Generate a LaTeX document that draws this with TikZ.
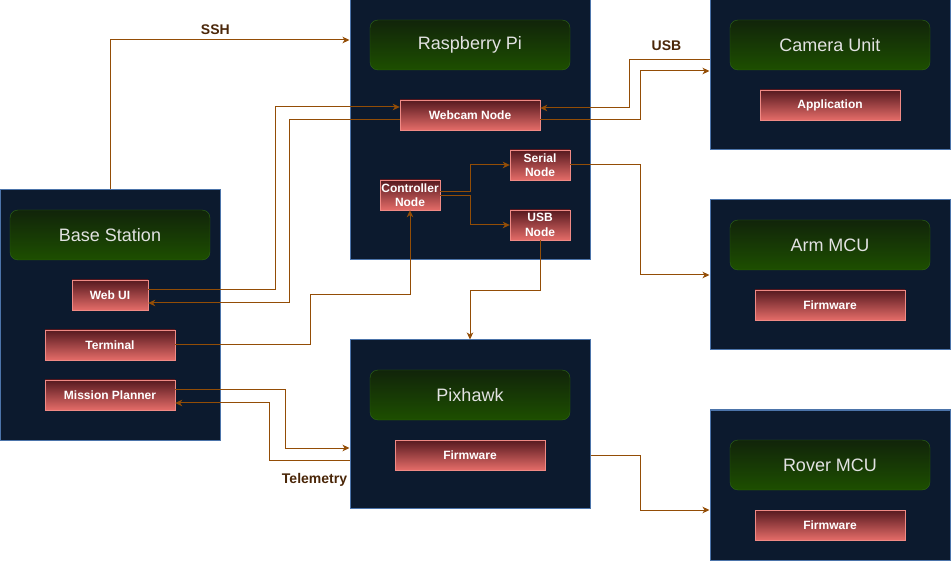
\documentclass[tikz,border=0pt]{standalone}
\usepackage{fontspec}
\setmainfont{Liberation Sans}
\usetikzlibrary{shapes,arrows.meta}
\definecolor{unitfill}{HTML}{0C1A2E}
\definecolor{unitline}{HTML}{4C74AA}
\definecolor{titletop}{HTML}{11240A}
\definecolor{titlebot}{HTML}{1D4F00}
\definecolor{titleline}{HTML}{2E6614}
\definecolor{titletext}{HTML}{E2E2E2}
\definecolor{parttop}{HTML}{56191F}
\definecolor{partbot}{HTML}{E46C68}
\definecolor{partline}{HTML}{F08A85}
\definecolor{linkcol}{HTML}{934D06}
\definecolor{tagcol}{HTML}{4A2608}
\tikzstyle{unit} = [rectangle, draw=unitline, fill=unitfill, line width=1pt, minimum width=240pt]
\tikzstyle{title} = [rectangle, rounded corners=8pt, draw=titleline, top color=titletop, bottom color=titlebot, minimum width=200pt, minimum height=50pt, text=titletext, font=\fontsize{18}{21}\selectfont]
\tikzstyle{part} = [rectangle, draw=partline, top color=parttop, bottom color=partbot, minimum height=30pt, inner sep=1pt, align=center, text=white, font=\bfseries\fontsize{12}{14.5}\selectfont]
\tikzstyle{link} = [draw=linkcol, line width=1pt, ->]
\tikzstyle{tag} = [text=tagcol, inner sep=0pt, font=\bfseries\fontsize{14}{16}\selectfont]

\begin{document}
\begin{tikzpicture}[x=1pt, y=-1pt, >={Stealth[length=7pt, width=6.5pt, inset=2pt]}]
\useasboundingbox (0,0) rectangle (951,561);
% units
\node [unit, minimum width=220pt, minimum height=250pt] (Base) at (110,315) {};
\node [unit, minimum height=260pt] (Pi) at (470,130) {};
\node [unit, minimum height=168pt] (Pixhawk) at (470,424) {};
\node [unit, minimum height=150pt] (Camera) at (830,75) {};
\node [unit, minimum height=150pt] (Arm) at (830,275) {};
\node [unit, minimum height=150pt] (Rover) at (830,485) {};

\node [title] (BaseTitle) at (110,235) {Base Station};
\node [title] (PiTitle) at (470,45) {Raspberry Pi};
\node [title] (PixhawkTitle) at (470,395) {Pixhawk};
\node [title] (CameraTitle) at (830,45) {Camera Unit};
\node [title] (ArmTitle) at (830,245) {Arm MCU};
\node [title] (RoverTitle) at (830,465) {Rover MCU};

% parts
\node [part, minimum width=76pt] (WebUI) at (110,295) {Web UI};
\node [part, minimum width=130pt] (Terminal) at (110,345) {Terminal};
\node [part, minimum width=130pt] (Planner) at (110,395) {Mission Planner};
\node [part, minimum width=140pt] (Webcam) at (470,115) {Webcam Node};
\node [part, minimum width=60pt] (Controller) at (410,195) {Controller\\Node};
\node [part, minimum width=60pt] (Serial) at (540,165) {Serial\\Node};
\node [part, minimum width=60pt] (USBNode) at (540,225) {USB\\Node};
\node [part, minimum width=140pt] (App) at (830,105) {Application};
\node [part, minimum width=150pt] (ArmFw) at (830,305) {Firmware};
\node [part, minimum width=150pt] (RoverFw) at (830,525) {Firmware};
\node [part, minimum width=150pt] (PixFw) at (470,455) {Firmware};

% links
\draw [link] (Base.north) |- node [tag, above=5pt, pos=0.72] {SSH} ([yshift=90pt]Pi.west);
\draw [link] ([yshift=5pt]WebUI.east) -- ++(127,0) |- ([yshift=8pt]Webcam.west);
\draw [link] ([yshift=-5pt]Webcam.west) -- ++(-110,0) |- ([yshift=-8pt]WebUI.east);
\draw [link] ([yshift=15pt]Camera.west) -- node [tag, above=9pt, xshift=-3pt] {USB} ++(-80,0) |- ([yshift=7pt]Webcam.east);
\draw [link] ([yshift=-5pt]Webcam.east) -- ++(100,0) |- ([yshift=4pt]Camera.west);
\draw [link] ([yshift=3pt]Controller.east) -- ++(30,0) |- (Serial.west);
\draw [link] ([yshift=-1pt]Controller.east) -- ++(30,0) |- (USBNode.west);
\draw [link] (Serial.east) -- ++(70,0) |- (Arm.west);
\draw [link] (USBNode.south) -- ++(0,50) -| (Pixhawk.north);
\draw [link] (Terminal.east) -| ++(135,-50) -| (Controller.south);
\draw [link] ([yshift=5pt]Planner.east) -- ++(110,0) |- ([yshift=-24pt]Pixhawk.west);
\draw [link] ([yshift=-36pt]Pixhawk.west) -- node [tag, below=13pt, xshift=5pt] {Telemetry} ++(-80,0) |- ([yshift=-8pt]Planner.east);
\draw [link] ([yshift=-31pt]Pixhawk.east) -- ++(50,0) |- ([yshift=-25pt]Rover.west);

\end{tikzpicture}
\end{document}
